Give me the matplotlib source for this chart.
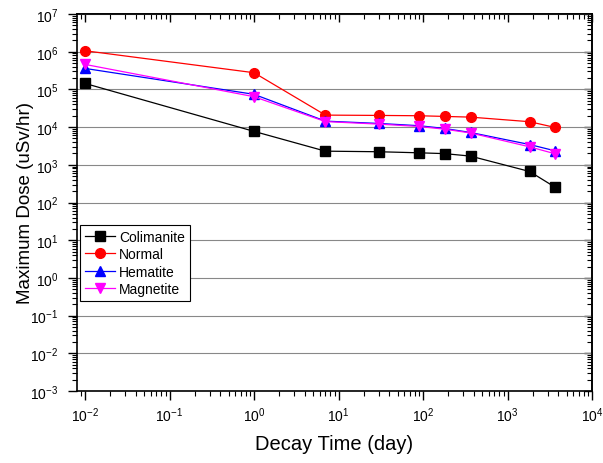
import numpy as np
import matplotlib
matplotlib.use("Agg")
import matplotlib.pyplot as plt
from matplotlib.ticker import LogLocator, NullFormatter, FixedLocator

plt.rcParams['font.family'] = ['Liberation Sans', 'DejaVu Sans']
plt.rcParams['mathtext.fontset'] = 'custom'
plt.rcParams['mathtext.rm'] = 'Liberation Sans'
plt.rcParams['mathtext.it'] = 'Liberation Sans'

# decay time in days
days = [0.01, 1, 7, 30, 90, 180, 365, 1825, 3650]

colimanite = [1.44e5, 7.7e3, 2.3e3, 2.22e3, 2.08e3, 1.98e3, 1.7e3, 665, 255]
normal = [1.06e6, 2.77e5, 2.08e4, 2.04e4, 2.0e4, 1.92e4, 1.84e4, 1.39e4, 9.8e3]
hematite = [3.6e5, 7.4e4, 1.44e4, 1.25e4, 1.09e4, 9.2e3, 7.2e3, 3.45e3, 2.35e3]
magnetite = [4.6e5, 6.4e4, 1.4e4, 1.2e4, 1.04e4, 8.8e3, 7.0e3, 3.0e3, 1.96e3]

x_major = [1e-2, 1e-1, 1e0, 1e1, 1e2, 1e3, 1e4]
y_major = [1e-3, 1e-2, 1e-1, 1e0, 1e1, 1e2, 1e3, 1e4, 1e5, 1e6, 1e7]

W, H = 603, 464
fig = plt.figure(figsize=(W/100, H/100), dpi=100)
ax = fig.add_axes([77/W, 1 - 392/H, (592-77)/W, (392-15)/H])

ax.plot(days, colimanite, '-s', color='black', ms=6.5, lw=0.9, label='Colimanite')
ax.plot(days, normal, '-o', color='red', ms=7, lw=0.9, label='Normal')
ax.plot(days, hematite, '-^', color='blue', ms=7, lw=0.9, label='Hematite')
ax.plot(days, magnetite, '-v', color='magenta', ms=7, lw=0.9, label='Magnetite')

ax.set_xscale('log')
ax.set_yscale('log')
ax.set_xlim(10**-2.095, 1e4)
ax.set_ylim(1e-3, 1e7)


def set_log_ticks(axis, major):
    axis.set_major_locator(FixedLocator(major))
    axis.set_minor_locator(LogLocator(base=10, subs=np.arange(2, 10), numticks=20))
    axis.set_minor_formatter(NullFormatter())


set_log_ticks(ax.xaxis, x_major)
set_log_ticks(ax.yaxis, y_major)

# bottom / left: outward ticks with labels
ax.tick_params(which='both', direction='out', labelsize=10)
ax.tick_params(which='major', length=6.5, width=1)
ax.tick_params(which='minor', length=3.5, width=0.8)
ax.tick_params(axis='x', pad=4)
ax.tick_params(axis='y', pad=7)

# top / right: inward ticks, no labels
top = ax.secondary_xaxis('top')
right = ax.secondary_yaxis('right')
set_log_ticks(top.xaxis, x_major)
set_log_ticks(right.yaxis, y_major)
for sec in (top, right):
    sec.tick_params(which='both', direction='in', labelleft=False, labelright=False,
                    labeltop=False, labelbottom=False)
    sec.tick_params(which='major', length=6, width=1)
    sec.tick_params(which='minor', length=3.5, width=0.8)
    for s in sec.spines.values():
        s.set_linewidth(1.2)

ax.yaxis.grid(True, which='major', color='#888888', lw=0.8)
ax.set_axisbelow(True)

for s in ax.spines.values():
    s.set_linewidth(1.2)

ax.set_xlabel('Decay Time (day)', fontsize=14.5)
ax.xaxis.set_label_coords(0.499, -0.115)
ax.set_ylabel('Maximum Dose (uSv/hr)', fontsize=13.5)
ax.yaxis.set_label_coords(-0.083, 0.5)

leg = ax.legend(loc='upper left', bbox_to_anchor=(80/W, 1 - 226/H),
                bbox_transform=fig.transFigure, fontsize=10,
                frameon=True, fancybox=False, edgecolor='black', framealpha=1,
                handlelength=2.2, handletextpad=0.25, labelspacing=0.25,
                borderpad=0.35, borderaxespad=0)
leg.get_frame().set_linewidth(0.8)

fig.savefig('out.png', dpi=100)
